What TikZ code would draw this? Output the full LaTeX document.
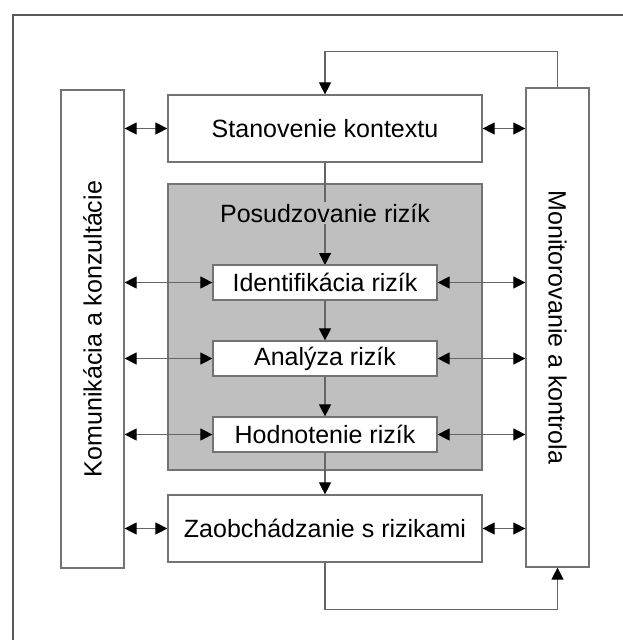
\documentclass[tikz,border=0pt]{standalone}
\usepackage{fontspec}
\setmainfont{Liberation Sans}
\usetikzlibrary{arrows.meta}
\begin{document}
\begin{tikzpicture}[x=1pt,y=-1pt,
    box/.style={draw=black!55,line width=1.2pt,fill=white,inner sep=0pt,
      font=\fontsize{25}{28}\selectfont},
    arr/.style={draw=black!60,line width=1.1pt,-{Triangle[length=12pt,width=12pt,color=black]}},
    both/.style={arr,{Triangle[length=12pt,width=12pt,color=black]}-{Triangle[length=12pt,width=12pt,color=black]}}]
      \useasboundingbox (0,0) rectangle (623,640);
      \draw[black!65,line width=1.3pt] (13,640) -- (13,15) -- (623,15);
      \draw
        (92.5,329) node[box,minimum width=63,minimum height=478] (kom){\rotatebox{90}{Komunikácia a konzultácie}}
        (557.5,327.5) node[box,minimum width=63,minimum height=479] (mon){\rotatebox{-90}{Monitorovanie a kontrola}}
        (325,128.5) node[box,minimum width=314,minimum height=67] (sta){Stanovenie kontextu}
        (325,327) node[box,fill=black!25,minimum width=314,minimum height=286] (pos){};
      \draw[arr] (sta.south) -- (325,265);
      \draw
        (325,213) node[box,draw=none,fill=black!25,inner sep=2pt] (post){Posudzovanie rizík}
        (325,282.5) node[box,minimum width=224,minimum height=35] (idf){Identifikácia rizík}
        (325,358.5) node[box,minimum width=224,minimum height=35] (ana){Analýza rizík}
        (325,434.5) node[box,minimum width=224,minimum height=35] (hod){Hodnotenie rizík}
        (325,528.5) node[box,minimum width=314,minimum height=67] (zao){Zaobchádzanie s rizikami};
      \draw[arr] (idf) -- (ana);
      \draw[arr] (ana) -- (hod);
      \draw[arr] (hod.south) -- (zao.north);
      \draw[arr] (mon.north) -- ++(0,-36) -| (sta.north);
      \draw[arr] (zao.south) -- ++(0,47) -| (mon.south);
      \foreach \n in {sta,idf,ana,hod,zao} {
        \draw[both] (kom.east |- \n.west) -- (\n.west);
        \draw[both] (\n.east) -- (mon.west |- \n.east);
      }
    \end{tikzpicture}
\end{document}
